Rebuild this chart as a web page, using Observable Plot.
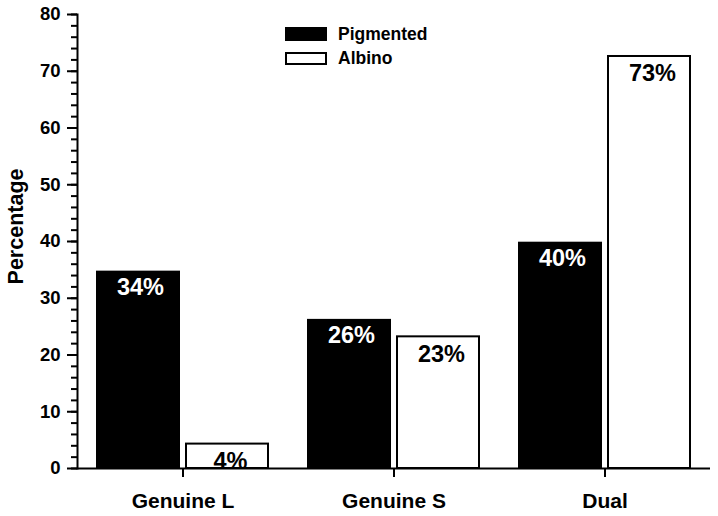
<!DOCTYPE html>
<html>
<head>
<meta charset="utf-8">
<script src="https://cdn.jsdelivr.net/npm/d3@7"></script>
<script src="https://cdn.jsdelivr.net/npm/@observablehq/plot@0.6"></script>
<style>
  html, body { margin: 0; padding: 0; background: #fff; }
  #wrap { position: relative; width: 718px; height: 516px; font-family: "Liberation Sans", Arial, sans-serif; }
  #legend { position: absolute; left: 285px; top: 27px; font-weight: bold; font-size: 17.5px; color: #000; }
  .item { display: flex; align-items: center; height: 24px; }
  .sw { width: 42px; height: 14px; box-sizing: border-box; margin-right: 11px; }
  .item:first-child { margin-top: -5px; }
</style>
</head>
<body>
<div id="wrap"></div>
<script>
const categories = ["Genuine L", "Genuine S", "Dual"];
const groups = ["Pigmented", "Albino"];
const pigmented = [34.6, 26.1, 39.7];
const albino = [4.3, 23.2, 72.6];
const pigmentedLabels = ["34%", "26%", "40%"];
const albinoLabels = ["4%", "23%", "73%"];
const yTicks = [0, 10, 20, 30, 40, 50, 60, 70, 80];
const yMinorTicks = d3.range(0, 81, 2);
const yTitle = "Percentage";

const data = [];
categories.forEach((c, i) => {
  data.push({category: c, group: groups[0], value: pigmented[i], label: pigmentedLabels[i]});
  data.push({category: c, group: groups[1], value: albino[i], label: albinoLabels[i]});
});

const font = '"Liberation Sans", Arial, sans-serif';

const chart = Plot.plot({
  width: 718,
  height: 516,
  marginTop: 14,
  marginBottom: 48,
  marginLeft: 77,
  marginRight: 8,
  style: {fontFamily: font, fontWeight: "bold", color: "#000", background: "#fff"},
  fx: {domain: categories, padding: 0, label: null},
  x: {domain: groups, paddingInner: 0.078, paddingOuter: 0.218, axis: null},
  y: {domain: [0, 80], label: null},
  color: {domain: groups, range: ["#000", "#fff"]},
  marks: [
    Plot.barY(data, {fx: "category", x: "group", y: "value", fill: "group", stroke: "#000", strokeWidth: 2}),
    Plot.text(data.filter(d => d.group === groups[0]), {fx: "category", x: "group", y: "value", text: "label", fill: "#fff", fontSize: 23.5, fontWeight: "bold", lineAnchor: "top", dy: 6, dx: 2}),
    Plot.text(data.filter(d => d.group === groups[1]), {fx: "category", x: "group", y: "value", text: "label", fill: "#000", fontSize: 23.5, fontWeight: "bold", lineAnchor: "top", dy: 8, dx: 3}),
    Plot.ruleY([0], {strokeWidth: 2}),
    Plot.frame({anchor: "left", strokeWidth: 2, facetAnchor: "left"}),
    Plot.axisY(yTicks, {tickSize: 10, tickPadding: 7, strokeWidth: 2, fontSize: 18.5, fontWeight: "bold", label: null}),
    Plot.axisY(yMinorTicks, {tickSize: 6, strokeWidth: 2, tickFormat: () => "", label: null}),
    Plot.axisFx({anchor: "bottom", tickSize: 9, tickPadding: 16, strokeWidth: 2, fontSize: 21, fontWeight: "bold", label: null}),
    Plot.text([yTitle], {text: d => d, frameAnchor: "left", textAnchor: "middle", lineAnchor: "middle", rotate: -90, dx: -61, dy: -15, fontSize: 21.5, fontWeight: "bold", facetAnchor: "left"})
  ]
});

const wrap = document.getElementById("wrap");
wrap.appendChild(chart);

const legend = document.createElement("div");
legend.id = "legend";
groups.forEach((g, i) => {
  const item = document.createElement("div");
  item.className = "item";
  const sw = document.createElement("div");
  sw.className = "sw";
  if (i === 0) { sw.style.background = "#000"; }
  else { sw.style.background = "#fff"; sw.style.border = "2px solid #000"; sw.style.height = "13px"; }
  const t = document.createElement("span");
  t.textContent = g;
  item.appendChild(sw);
  item.appendChild(t);
  legend.appendChild(item);
});
wrap.appendChild(legend);
</script>
</body>
</html>
